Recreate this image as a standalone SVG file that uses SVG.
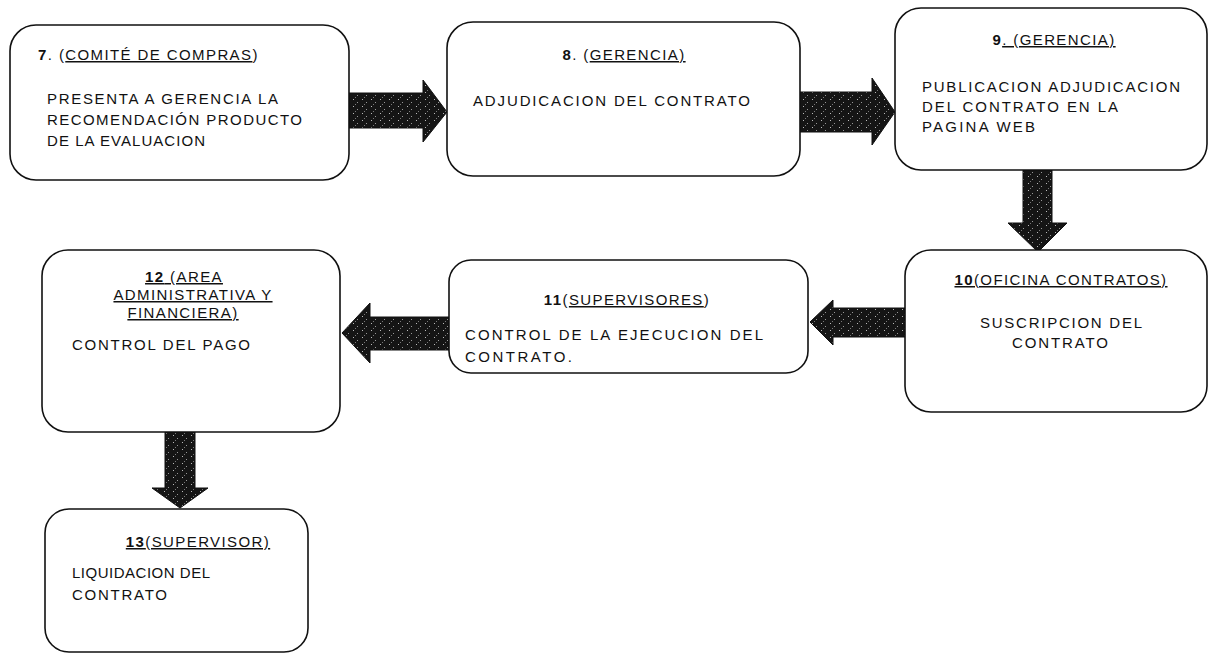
<svg xmlns="http://www.w3.org/2000/svg" width="1212" height="654" viewBox="0 0 1212 654">
<style>
.box{fill:#fff;stroke:#111;stroke-width:1.6}
.t{font-family:"Liberation Sans",Arial,sans-serif;font-size:15px;fill:#111;letter-spacing:1.4px}
.c{text-anchor:middle}
.b{font-family:"Liberation Sans",Arial,sans-serif;font-size:15px;fill:#111}
.bold{font-weight:bold}
.u{text-decoration:underline}
.arrow{fill:url(#speck);stroke:#111;stroke-width:1}
</style>
<defs>
<pattern id="speck" width="9" height="7" patternUnits="userSpaceOnUse">
<rect width="9" height="7" fill="#151515"/>
<rect x="2" y="1" width="1" height="1" fill="#bbb"/>
<rect x="6" y="4" width="1" height="1" fill="#999"/>
<rect x="4" y="6" width="1" height="1" fill="#777"/>
</pattern>
</defs>
<rect width="1212" height="654" fill="#fff"/>

<g id="connectors">
<polygon class="arrow" points="349,93 423,93 423,80 447,112 423,142 423,128 349,128"/>
<polygon class="arrow" points="800,92 872,92 872,78 895,112 872,145 872,132 800,132"/>
<polygon class="arrow" points="1023,170 1052,170 1052,223 1067,223 1038,252 1008,223 1023,223"/>
<polygon class="arrow" points="905,308 833,308 833,300 810,322 833,345 833,337 905,337"/>
<polygon class="arrow" points="449,317 370,317 370,303 342,333 370,363 370,350 449,350"/>
<polygon class="arrow" points="165,432 195,432 195,488 208,488 180,508 152,488 165,488"/>
</g>

<g id="node7">
<rect class="box" x="10" y="25" width="339" height="155" rx="26"/>
<text class="t" x="38" y="60"><tspan class="bold">7</tspan>. (<tspan class="u">COMITÉ DE COMPRAS</tspan>)</text>
<text class="b" x="47" y="104" textLength="231" lengthAdjust="spacing">PRESENTA A GERENCIA  LA</text>
<text class="b" x="47" y="125" textLength="255" lengthAdjust="spacing">RECOMENDACIÓN PRODUCTO</text>
<text class="b" x="47" y="146" textLength="158" lengthAdjust="spacing">DE LA EVALUACION</text>
</g>

<g id="node8">
<rect class="box" x="447" y="22" width="353" height="154" rx="26"/>
<text class="t c" x="624" y="60"><tspan class="bold">8</tspan>. (<tspan class="u">GERENCIA)</tspan></text>
<text class="b" x="473" y="106" textLength="277" lengthAdjust="spacing">ADJUDICACION DEL CONTRATO</text>
</g>

<g id="node9">
<rect class="box" x="895" y="8" width="312" height="162" rx="26"/>
<text class="t c" x="1054" y="45"><tspan class="bold">9</tspan><tspan class="u">. (GERENCIA)</tspan></text>
<text class="b" x="922" y="92" textLength="258" lengthAdjust="spacing">PUBLICACION ADJUDICACION</text>
<text class="b" x="922" y="112" textLength="196" lengthAdjust="spacing">DEL CONTRATO EN LA</text>
<text class="b" x="922" y="132" textLength="113" lengthAdjust="spacing">PAGINA WEB</text>
</g>

<g id="node10">
<rect class="box" x="905" y="250" width="302" height="162" rx="26"/>
<text class="t c u" x="1061" y="285"><tspan class="bold">10</tspan>(OFICINA CONTRATOS)</text>
<text class="b" x="980" y="328" textLength="162" lengthAdjust="spacing">SUSCRIPCION DEL</text>
<text class="b" x="1012" y="348" textLength="96" lengthAdjust="spacing">CONTRATO</text>
</g>

<g id="node11">
<rect class="box" x="449" y="260" width="359" height="113" rx="22"/>
<text class="t c" x="627" y="305"><tspan class="bold">11</tspan>(<tspan class="u">SUPERVISORES</tspan>)</text>
<text class="b" x="465" y="340" textLength="298" lengthAdjust="spacing">CONTROL DE LA EJECUCION DEL</text>
<text class="b" x="465" y="362" textLength="107" lengthAdjust="spacing">CONTRATO.</text>
</g>

<g id="node12">
<rect class="box" x="42" y="250" width="298" height="182" rx="26"/>
<text class="t c u" x="184" y="282"><tspan class="bold">12</tspan> (AREA</text>
<text class="t c u" x="193" y="300">ADMINISTRATIVA Y</text>
<text class="t c u" x="183" y="318">FINANCIERA)</text>
<text class="b" x="72" y="350" textLength="178" lengthAdjust="spacing">CONTROL DEL PAGO</text>
</g>

<g id="node13">
<rect class="box" x="45" y="509" width="263" height="143" rx="24"/>
<text class="t c u" x="198" y="547"><tspan class="bold">13</tspan>(SUPERVISOR)</text>
<text class="b" x="72" y="578" textLength="138" lengthAdjust="spacing">LIQUIDACION DEL</text>
<text class="b" x="72" y="600" textLength="95" lengthAdjust="spacing">CONTRATO</text>
</g>
</svg>
